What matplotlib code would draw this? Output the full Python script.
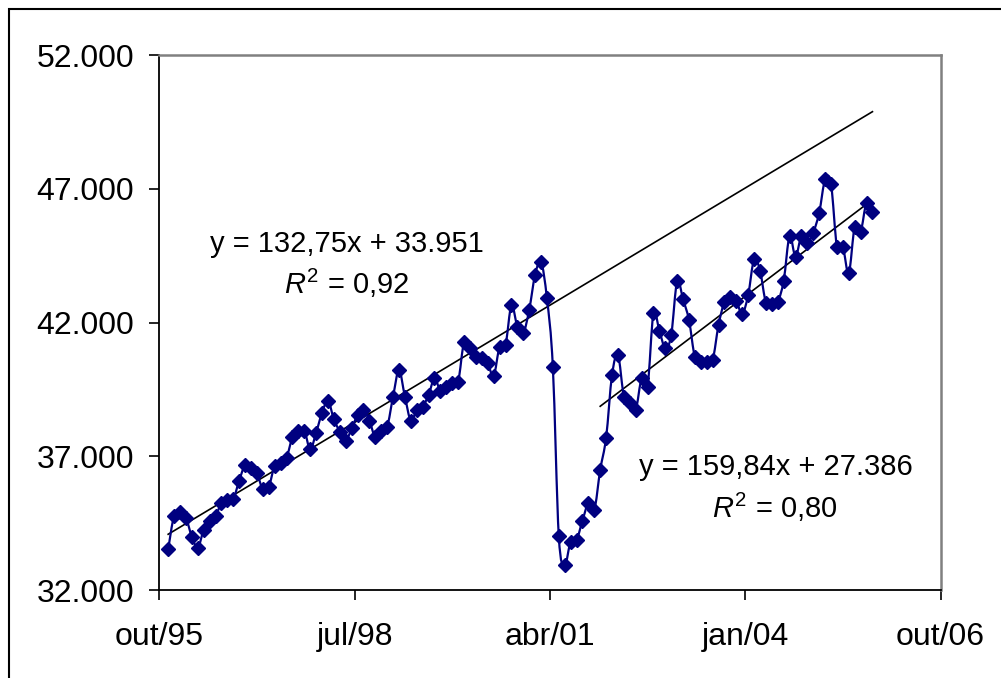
import numpy as np
import matplotlib
matplotlib.use('Agg')
import matplotlib.pyplot as plt
from matplotlib.path import Path
from matplotlib.patches import PathPatch, Rectangle
from matplotlib.ticker import FuncFormatter

plt.rcParams['font.family'] = ['Liberation Sans', 'DejaVu Sans']
plt.rcParams['mathtext.fontset'] = 'custom'
plt.rcParams['mathtext.rm'] = 'Liberation Sans'
plt.rcParams['mathtext.it'] = 'Liberation Sans:italic'

# valores mensais, nov/95 a out/05
valores = [33520, 34780, 34920, 34700, 33990, 33580, 34240, 34590, 34770, 35240,
           35350, 35400, 36090, 36670, 36550, 36360, 35760, 35860, 36650, 36750,
           36950, 37710, 37960, 37960, 37260, 37880, 38630, 39080, 38380, 37920,
           37580, 38040, 38540, 38730, 38330, 37710, 37950, 38100, 39230, 40220,
           39230, 38330, 38730, 38850, 39290, 39910, 39450, 39600, 39750, 39790,
           41280, 41040, 40720, 40660, 40470, 40000, 41100, 41160, 42650, 41840,
           41600, 42470, 43780, 44270, 42900, 40330, 34020, 32930, 33810, 33870,
           34590, 35240, 34990, 36490, 37700, 40040, 40790, 39230, 38980, 38730,
           39910, 39600, 42370, 41690, 41040, 41530, 43560, 42870, 42090, 40700,
           40530, 40530, 40600, 41910, 42780, 42960, 42800, 42320, 43030, 44360,
           43940, 42740, 42690, 42780, 43560, 45230, 44460, 45230, 44980, 45360,
           46100, 47350, 47180, 44830, 44830, 43840, 45580, 45390, 46480, 46140]

indice = np.arange(1, len(valores) + 1)   # x usado nas tendências
meses = indice + 0.5                        # posição em meses a partir de out/95

x_ticks = [0, 33, 66, 99, 132]
x_labels = ['out/95', 'jul/98', 'abr/01', 'jan/04', 'out/06']
y_ticks = [32000, 37000, 42000, 47000, 52000]

# tendência antes do racionamento (equação do gráfico)
a1, b1 = 132.75, 33951
eq1 = 'y = 132,75x + 33.951'
r2_1 = '$\\mathit{R}^{2}$ = 0,92'

# tendência depois do racionamento
ini2, fim2 = 74, 119
eq2 = 'y = 159,84x + 27.386'
r2_2 = '$\\mathit{R}^{2}$ = 0,80'

cor = '#000080'


def suave(xs, ys):
    # linha suavizada (bezier tipo catmull-rom), como no excel
    p = np.column_stack([xs, ys]).astype(float)
    n = len(p)
    verts = [p[0]]
    codes = [Path.MOVETO]
    for k in range(n - 1):
        p0 = p[k - 1] if k > 0 else p[k]
        p1 = p[k]
        p2 = p[k + 1]
        p3 = p[k + 2] if k + 2 < n else p[k + 1]
        verts += [p1 + (p2 - p0) / 6, p2 - (p3 - p1) / 6, p2]
        codes += [Path.CURVE4] * 3
    return Path(verts, codes)


fig = plt.figure(figsize=(10.01, 6.78), dpi=100)
ax = fig.add_axes([159.3 / 1001, 88 / 678, 781.2 / 1001, 535 / 678])

ax.add_patch(PathPatch(suave(meses, valores), fill=False, edgecolor=cor, lw=1.6, zorder=3))
ax.plot(meses, valores, 'D', color=cor, ms=7, zorder=4)

# tendência 1 (até o fim da série)
ax.plot(meses, a1 * indice + b1, color='black', lw=1.2, zorder=2)

# tendência 2 (ajuste nos dados depois da queda)
sel = (indice >= ini2) & (indice <= fim2)
c2 = np.polyfit(indice[sel], np.array(valores)[sel], 1)
ax.plot(meses[sel], np.polyval(c2, indice[sel]), color='black', lw=1.2, zorder=2)

ax.text(31.7, 44935, eq1, fontsize=21, ha='center', va='center')
ax.text(31.7, 43477, r2_1, fontsize=21, ha='center', va='center')
ax.text(104.2, 36598, eq2, fontsize=21, ha='center', va='center')
ax.text(104.0, 35103, r2_2, fontsize=21, ha='center', va='center')

ax.set_xlim(0, 132)
ax.set_ylim(32000, 52000)
ax.set_xticks(x_ticks)
ax.set_xticklabels(x_labels)
ax.set_yticks(y_ticks)
ax.yaxis.set_major_formatter(FuncFormatter(lambda v, p: f'{v:,.0f}'.replace(',', '.')))

ax.tick_params(direction='out', length=7, width=1.2, labelsize=23, colors='black')
ax.tick_params(axis='y', pad=11)
ax.tick_params(axis='x', pad=16)
for s in ['left', 'bottom']:
    ax.spines[s].set_color('black')
    ax.spines[s].set_linewidth(1.3)
for s in ['top', 'right']:
    ax.spines[s].set_color('#808080')
    ax.spines[s].set_linewidth(1.8)

# borda da área do gráfico
fig.add_artist(Rectangle((9 / 1001, -0.5), 2, 0.5 + 1 - 9 / 678, transform=fig.transFigure,
                         fill=False, ec='black', lw=1.5))

fig.savefig('out.png', dpi=100)
